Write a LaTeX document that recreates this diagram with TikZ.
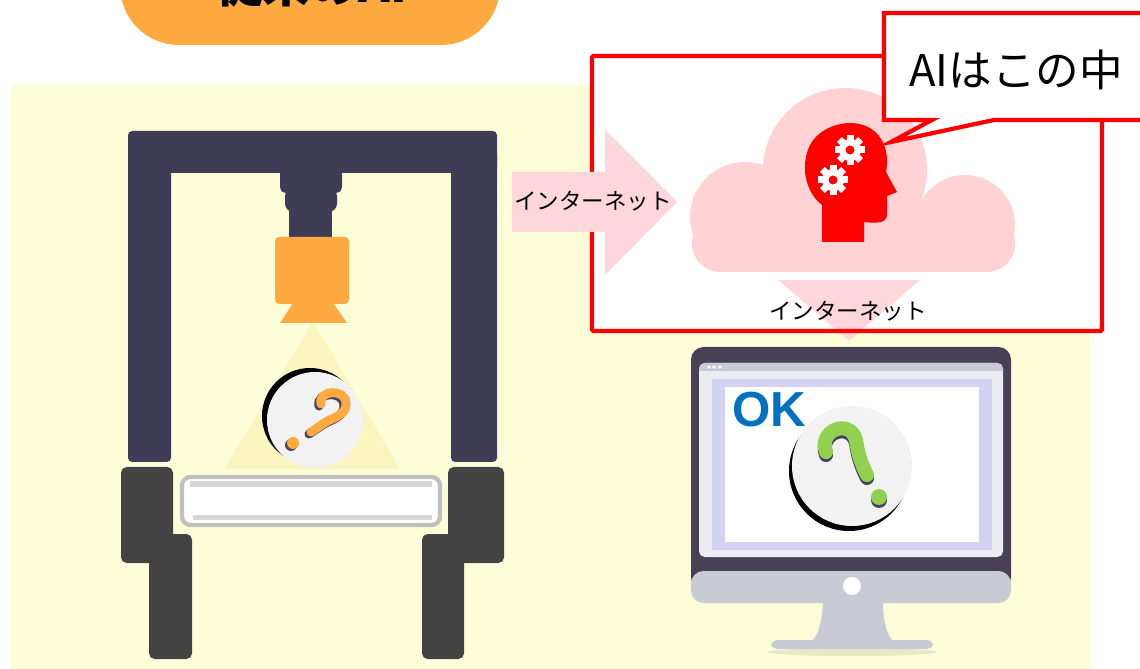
\documentclass[tikz,border=0pt]{standalone}
\usepackage{fontspec}
\setmainfont{Liberation Sans}
\newfontfamily\jpfont{Noto Sans CJK JP}
\usepackage{tikz}
\usetikzlibrary{positioning}
\definecolor{myyellow}{RGB}{253,254,216}
\definecolor{mylight}{RGB}{250,245,190}
\definecolor{myorange}{RGB}{255,170,64}
\definecolor{mydark}{RGB}{63,60,85}
\definecolor{myfoot}{RGB}{67,67,67}
\definecolor{mypink}{RGB}{255,214,220}
\definecolor{mycloud}{RGB}{255,210,212}
\definecolor{myred}{RGB}{255,0,0}
\definecolor{myscreen}{RGB}{71,64,87}
\definecolor{mygrey}{RGB}{200,202,214}
\definecolor{mypaper}{RGB}{236,237,242}
\definecolor{mylilac}{RGB}{211,210,242}
\definecolor{myblue}{RGB}{0,112,192}
\definecolor{mygreen}{RGB}{146,208,80}
\definecolor{myball}{RGB}{242,242,242}
\definecolor{myshade}{RGB}{70,65,95}
\definecolor{myplate}{RGB}{192,192,192}
\definecolor{mystrip}{RGB}{214,214,214}
\definecolor{myfloor}{RGB}{232,232,200}

\begin{document}
\begin{tikzpicture}[x=0.025cm, y=-0.025cm,
    netlabel/.style={font=\jpfont\fontsize{16}{19}\selectfont, inner sep=0pt},
    qmark/.style={line width=#1, line cap=round}]
    \useasboundingbox (0,0) rectangle (1140,669);

    % title tab, cut by the top edge
    \fill[myorange, rounded corners=42pt] (120,-90) rectangle (500,45);
    \node[anchor=base, font=\jpfont\bfseries\fontsize{34}{40}\selectfont, inner sep=0pt] (title) at (311,3) {従来のAI};

    \fill[myyellow] (11,85) rectangle (1090,669);

    % inspection machine
    \fill[mydark, rounded corners=3pt] (128,131) rectangle (497,173);
    \fill[mydark, rounded corners=3pt] (128,150) rectangle (171,462);
    \fill[mydark, rounded corners=3pt] (451,150) rectangle (497,462);
    \fill[mydark, rounded corners=4pt] (280,165) rectangle (342,193);
    \fill[mydark, rounded corners=6pt] (285,188) rectangle (337,212);
    \fill[mydark] (289,205) rectangle (332,240);

    \fill[mylight] (313,322) -- (400,469) -- (224,469) -- cycle;

    % camera
    \fill[myorange, rounded corners=3pt] (275,237) rectangle (349,304);
    \fill[myorange] (293,303) -- (333,303) -- (347,323) -- (280,323) -- cycle;

    % unknown part
    \fill[black] (310,416) circle (48);
    \fill[myball] (315,420) circle (48);
    \draw[qmark=6.4pt, myshade] (319,406) .. controls (316,392) and (343,390) .. (344,405) .. controls (345,417) and (330,420) .. (324,424) -- (309,434);
    \fill[myshade] (291,445) circle (6);
    \draw[qmark=6.4pt, myorange] (321,404) .. controls (318,390) and (345,388) .. (346,403) .. controls (347,415) and (332,418) .. (326,422) -- (311,432);
    \fill[myorange] (293,443) circle (6);

    % stage
    \draw[draw=myplate, fill=white, line width=3pt, rounded corners=6pt] (182,477) rectangle (440,525);
    \fill[mystrip] (190,481) rectangle (432,487);
    \fill[mystrip] (193,515) rectangle (432,520);

    % feet
    \fill[myfoot, rounded corners=4pt] (121,467) rectangle (173,563);
    \fill[myfoot, rounded corners=4pt] (149,534) rectangle (192,659);
    \fill[myfoot, rounded corners=4pt] (448,467) rectangle (504,563);
    \fill[myfoot, rounded corners=4pt] (422,534) rectangle (464,659);

    % cloud box
    \fill[white] (592,56) rectangle (1102,331);
    \fill[mypink] (778,280) -- (920,280) -- (849,341) -- cycle;
    \draw[myred, line width=3pt, rounded corners=1pt] (592,56) rectangle (1102,331);

    \begin{scope}
      \clip (680,80) rectangle (1030,272);
      \fill[mycloud] (845,170) circle (82);
      \fill[mycloud] (745,217) circle (55);
      \fill[mycloud] (965,225) circle (50);
      \fill[mycloud] (745,200) rectangle (965,272);
      \fill[mycloud, rounded corners=20pt] (692,215) rectangle (1015,272);
    \end{scope}

    % AI head
    \fill[myred] (822,242) -- (822,205) .. controls (805,192) and (800,165) .. (810,145)
      .. controls (822,122) and (862,114) .. (879,136) .. controls (888,148) and (888,162) .. (886,172)
      -- (897,192) -- (887,196) -- (887,214) .. controls (887,222) and (880,224) .. (864,222)
      -- (864,242) -- cycle;
    \foreach \cx/\cy in {850/150, 833/180} {
      \begin{scope}[shift={(\cx,\cy)}]
        \foreach \a in {0,45,90,135}
          \fill[white, rotate=\a] (-3.5,-15) rectangle (3.5,15);
        \fill[white] (0,0) circle (11);
        \fill[myred] (0,0) circle (4.5);
      \end{scope}
    }

    \node[netlabel] (down) at (848,311) {インターネット};

    % arrow into the cloud
    \fill[mypink] (512,172) -- (605,172) -- (605,130) -- (677,202) -- (605,275) -- (605,232) -- (512,232) -- cycle;
    \node[netlabel] (up) at (593,201) {インターネット};

    % callout
    \draw[myred, line width=3pt, fill=white, line join=miter] (884,13) -- (1160,13) -- (1160,120) -- (994,120)
      -- (891,142) -- (932,120) -- (884,120) -- cycle;
    \node[font=\jpfont\fontsize{31}{37}\selectfont, inner sep=0pt] (inside) at (1016,70) {AIはこの中};

    % monitor
    \fill[myfloor] (852,652) ellipse (85 and 4);
    \fill[mygrey] (823,600) .. controls (822,630) and (815,642) .. (805,645) -- (900,645)
      .. controls (890,642) and (883,630) .. (883,600) -- cycle;
    \fill[mygrey, rounded corners=4pt] (771,640) rectangle (933,649);
    \fill[myscreen, rounded corners=9pt] (691,347) rectangle (1011,590);
    \fill[mygrey, rounded corners=9pt] (691,571) rectangle (1011,603);
    \fill[white] (852,586) circle (9);
    \fill[mypaper, rounded corners=4pt] (699,363) rectangle (1003,557);
    \fill[mygrey, rounded corners=4pt] (699,363) rectangle (1003,376);
    \fill[mypaper] (699,371) rectangle (1003,380);
    \foreach \x in {709,714,720}
      \fill[white] (\x,367) circle (1.8);
    \fill[mylilac] (712,379) rectangle (992,550);
    \fill[white] (725,387) rectangle (979,542);
    \node[anchor=base west, font=\bfseries\fontsize{35}{40}\selectfont, text=myblue, inner sep=0pt] (ok) at (732,427) {OK};

    \fill[black] (849,471) circle (60);
    \fill[myball] (852,466) circle (60);
    \draw[qmark=10pt, myshade] (826,455) .. controls (818,433) and (850,421) .. (856,443) .. controls (858,458) and (862,468) .. (867,478);
    \fill[myshade] (879,500) circle (8);
    \draw[qmark=10pt, mygreen] (826,452) .. controls (818,430) and (850,418) .. (856,440) .. controls (858,455) and (862,465) .. (867,475);
    \fill[mygreen] (879,497) circle (8);
\end{tikzpicture}
\end{document}
